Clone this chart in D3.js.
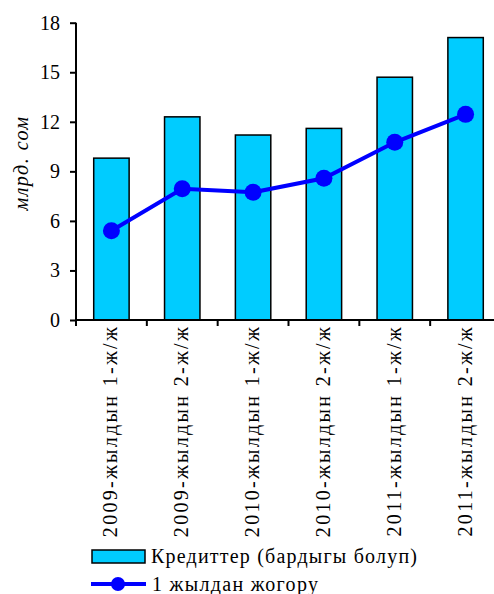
<!DOCTYPE html>
<html><head><meta charset="utf-8">
<script src="https://cdn.jsdelivr.net/npm/d3@7"></script>
<style>body{margin:0;background:#fff}svg{display:block}</style>
</head><body>
<script>
const categories = ["2009-жылдын 1-ж/ж","2009-жылдын 2-ж/ж","2010-жылдын 1-ж/ж","2010-жылдын 2-ж/ж","2011-жылдын 1-ж/ж","2011-жылдын 2-ж/ж"];
const credits = [9.8, 12.3, 11.2, 11.6, 14.7, 17.1];
const overYear = [5.4, 7.95, 7.73, 8.58, 10.76, 12.45];
const yTicks = [0, 3, 6, 9, 12, 15, 18];
const seriesNames = ["Кредиттер (бардыгы болуп)", "1 жылдан жогору"];
const yLabel = "млрд. сом";

const FONT = '"Liberation Serif"';
const W = 494, H = 594;
const svg = d3.select("body").append("svg").attr("width", W).attr("height", H);
const mLeft = 76, mTop = 22.7, mBottom = 320, mRight = 501;
const x = d3.scaleBand().domain(categories).range([mLeft, mRight]).paddingInner(0.5).paddingOuter(0.25);
const y = d3.scaleLinear().domain([0, 18]).range([mBottom, mTop]);

// bars
svg.selectAll("rect.bar").data(credits).join("rect")
  .attr("x", (d,i) => x(categories[i])).attr("width", x.bandwidth())
  .attr("y", d => y(d)).attr("height", d => y(0) - y(d))
  .attr("fill", "#00CCFF").attr("stroke", "#000").attr("stroke-width", 1.5);

// y axis
const ya = svg.append("g").attr("transform", `translate(${mLeft},0)`)
  .call(d3.axisLeft(y).tickValues(yTicks).tickSize(6).tickPadding(10).tickFormat(d3.format("d")));
ya.attr("font-family", null).attr("font-size", null);
ya.select(".domain").attr("stroke-width", 2).attr("d", `M0,${mTop}H0V${mBottom}`);
ya.selectAll(".tick line").attr("stroke-width", 2);
ya.selectAll("text").attr("fill", "#000").attr("font-family", FONT).attr("font-size", 20);

// x axis with ticks at band boundaries
const step = x.step();
const xa = svg.append("g").attr("transform", `translate(0,${mBottom})`)
  .call(d3.axisBottom(x).tickSize(0).tickFormat(""));
xa.select(".domain").attr("stroke-width", 2).attr("d", `M${mLeft},0H${mRight}`);
const bounds = d3.range(categories.length + 1).map(i => mLeft + i * step);
svg.selectAll("line.xt").data(bounds).join("line")
  .attr("x1", d => d).attr("x2", d => d).attr("y1", mBottom).attr("y2", mBottom + 6)
  .attr("stroke", "#000").attr("stroke-width", 2);
svg.selectAll("text.xl").data(categories).join("text")
  .attr("font-family", FONT).attr("letter-spacing", 2.3)
  .attr("transform", d => `translate(${x(d) + x.bandwidth()/2 + 6},${mBottom + 5}) rotate(-90)`)
  .attr("text-anchor", "end").attr("font-size", 20).attr("fill", "#000")
  .text(d => d);

// y label
svg.append("text").attr("font-family", FONT).attr("letter-spacing", 1.5)
  .attr("transform", `translate(28,163) rotate(-90)`)
  .attr("text-anchor", "middle").attr("font-size", 20).attr("font-style", "italic").text(yLabel);

// line
const cx = (d,i) => x(categories[i]) + x.bandwidth()/2;
svg.append("path").datum(overYear)
  .attr("d", d3.line().x(cx).y(d => y(d)))
  .attr("fill", "none").attr("stroke", "#0000FF").attr("stroke-width", 4);
svg.selectAll("circle.pt").data(overYear).join("circle")
  .attr("cx", cx).attr("cy", d => y(d)).attr("r", 8.5).attr("fill", "#0000FF");

// legend
const lg = svg.append("g");
lg.append("rect").attr("x", 92).attr("y", 550).attr("width", 53).attr("height", 13)
  .attr("fill", "#00CCFF").attr("stroke", "#000").attr("stroke-width", 1.5);
lg.append("text").attr("x", 151).attr("y", 563).attr("font-family", FONT).attr("letter-spacing", 1.2)
  .attr("font-size", 20).text(seriesNames[0]);
lg.append("line").attr("x1", 91).attr("x2", 146).attr("y1", 584).attr("y2", 584)
  .attr("stroke", "#0000FF").attr("stroke-width", 4);
lg.append("circle").attr("cx", 118).attr("cy", 584).attr("r", 7).attr("fill", "#0000FF");
lg.append("text").attr("x", 152).attr("y", 591).attr("font-family", FONT).attr("letter-spacing", 1.3)
  .attr("font-size", 20).text(seriesNames[1]);
</script>
</body></html>
